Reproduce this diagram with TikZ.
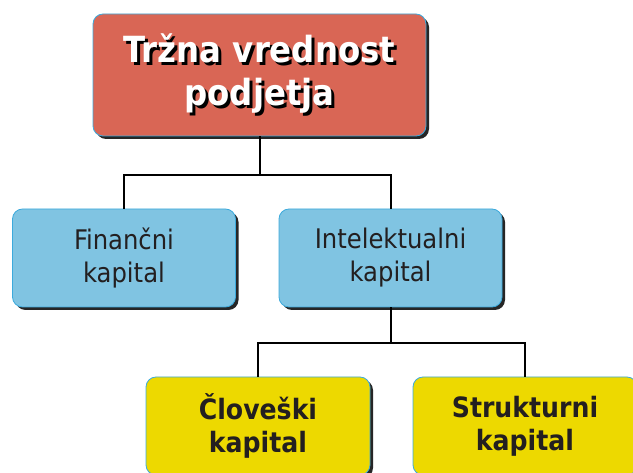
\documentclass[tikz,border=0pt]{standalone}
\usepackage{fontspec}
\setmainfont{DejaVu Sans Condensed}
\usetikzlibrary{shadows}
\definecolor{redbox}{RGB}{217,102,85}
\definecolor{bluebox}{RGB}{128,196,226}
\definecolor{yellowbox}{RGB}{237,217,0}
\definecolor{edgeblue}{RGB}{60,170,220}
\definecolor{txt}{RGB}{35,31,32}
\newcommand{\shadowline}[1]{\leavevmode\rlap{\hspace{3pt}\raisebox{-3pt}{\textcolor{black}{#1}}}\textcolor{white}{#1}}
\begin{document}
\begin{tikzpicture}[x=1pt,y=-1pt,
  box/.style={draw=edgeblue, line width=0.8pt, rounded corners=10pt, align=center,
    drop shadow={shadow xshift=3pt, shadow yshift=-3pt, fill=black, opacity=0.85},
    inner sep=0pt},
  topbox/.style={box, fill=redbox, minimum width=333pt, minimum height=122pt,
    font=\bfseries\fontsize{36}{43}\selectfont},
  midbox/.style={box, fill=bluebox, minimum width=223pt, minimum height=98pt,
    font=\fontsize{27}{33}\selectfont, text=txt},
  lowbox/.style={box, fill=yellowbox, minimum width=224pt, minimum height=98pt,
    font=\bfseries\fontsize{28}{33}\selectfont, text=txt},
  conn/.style={line width=2pt, black}
]
\useasboundingbox (0,0) rectangle (633,473);
\node[topbox] (top) at (259.5,75) {\shadowline{Tržna vrednost}\\\shadowline{podjetja}};
\node[midbox] (fin) at (124,258) {Finančni\\kapital};
\node[midbox] (int) at (390.5,258) {Intelektualni\\kapital};
\node[lowbox] (clo) at (258,426) {\raisebox{-3pt}{Človeški}\\\raisebox{-3pt}{kapital}};
\node[lowbox] (str) at (525,426) {\raisebox{-3pt}{Strukturni}\\\raisebox{-3pt}{kapital}};
\coordinate (j1) at (top.south |- 0,175);
\coordinate (j2) at (int.south |- 0,343);
\draw[conn] (top.south) -- (j1);
\draw[conn] (fin.north) |- (j1) -| (int.north);
\draw[conn] (int.south) -- (j2);
\draw[conn] (clo.north) |- (j2) -| (str.north);
\end{tikzpicture}
\end{document}
